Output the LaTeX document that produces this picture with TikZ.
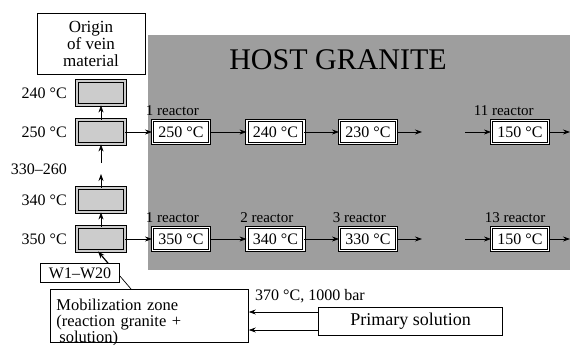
\documentclass[tikz,border=0pt]{standalone}
\usepackage{fontspec}
\setmainfont{Liberation Serif}
\usetikzlibrary{arrows.meta}

\definecolor{granite}{gray}{0.62}
\definecolor{vein}{gray}{0.80}

\begin{document}
\begin{tikzpicture}[
x=1pt, y=-1pt,
every node/.style={font=\fontsize{16}{15}\selectfont, inner sep=1pt},
box/.style={draw, line width=0.8pt, align=center},
hot/.style={draw, line width=0.9pt, double=vein, double distance=1.3pt, fill=vein, minimum width=48pt, minimum height=24pt},
reactor/.style={draw, line width=0.9pt, double=white, double distance=1.3pt, fill=white, minimum width=57pt, minimum height=23pt},
tag/.style={font=\fontsize{15}{15}\selectfont, anchor=south west, inner sep=1pt},
arrow/.style={-{Stealth[length=7pt,width=5pt]}, line width=0.7pt}
]
\useasboundingbox (0,0) rectangle (570,345);

% host granite
\fill[granite] (148,35) rectangle (570,270);
\node (host) at (338,60) {\fontsize{30}{30}\selectfont HOST GRANITE};

% vein column
\node[box, minimum width=108pt, minimum height=61pt, font=\fontsize{17}{17}\selectfont] (origin) at (91,43.5) {Origin\\of vein\\material};

\node[hot] (t240) at (101,93) {};
\node[hot] (t250) at (101,132) {};
\node[hot] (t340) at (101,200) {};
\node[hot] (t350) at (101,239) {};

\node[anchor=east] (l240) at (68,93) {240 °C};
\node[anchor=east] (l250) at (68,132) {250 °C};
\node[anchor=east] (l330) at (68,169) {330–260};
\node[anchor=east] (l340) at (68,200) {340 °C};
\node[anchor=east] (l350) at (68,239) {350 °C};

\coordinate (upA) at (101,174);
\coordinate (upB) at (101,163);

% upper reactor chain
\node[reactor, label={[tag, label distance=8pt]north west:1 reactor}] (r250) at (181,132) {250 °C};
\node[reactor] (r240) at (275.5,132) {240 °C};
\node[reactor] (r230) at (368,132) {230 °C};
\node[reactor, label={[tag, label distance=8pt, xshift=-11pt]north west:11 reactor}] (r150a) at (520,132) {150 °C};

\coordinate (gapA) at (422,132);
\coordinate (gapB) at (465,132);
\coordinate (outA) at (570,132);

% lower reactor chain
\node[reactor, label={[tag, label distance=8pt]north west:1 reactor}] (r350) at (181,239) {350 °C};
\node[reactor, label={[tag, label distance=8pt]north west:2 reactor}] (r340) at (275.5,239) {340 °C};
\node[reactor, label={[tag, label distance=8pt]north west:3 reactor}] (r330) at (368,239) {330 °C};
\node[reactor, label={[tag, label distance=8pt]north west:13 reactor}] (r150b) at (520,239) {150 °C};

\coordinate (gapC) at (422,239);
\coordinate (gapD) at (465,239);
\coordinate (outB) at (570,239);

% source
\node[box, minimum width=79pt, minimum height=19pt] (w) at (80,273) {W1–W20};
\node[box, anchor=north west, align=left, text width=186pt, inner xsep=6pt, inner ysep=10pt, text depth=22pt, font=\fontsize{16.5}{16}\selectfont] (mobil) at (50,289) {Mobilization zone\\(reaction granite +\\\hspace*{3pt}solution)};
\node[anchor=base west] (cond) at (254,300) {370 °C, 1000 bar};
\node[box, minimum width=184pt, minimum height=28pt, font=\fontsize{18}{18}\selectfont] (primary) at (410.5,321.5) {Primary solution};

\draw[arrow] (t250) -- (t240);
\draw[arrow] (t340) -- (upA);
\draw[arrow] (upB) -- (t250);
\draw[arrow] (t350) -- (t340);

\draw[arrow] (t250) -- (r250);
\draw[arrow] (r250) -- (r240);
\draw[arrow] (r240) -- (r230);
\draw[arrow] (r230) -- (gapA);
\draw[arrow] (gapB) -- (r150a);
\draw[arrow] (r150a) -- (outA);

\draw[arrow] (t350) -- (r350);
\draw[arrow] (r350) -- (r340);
\draw[arrow] (r340) -- (r330);
\draw[arrow] (r330) -- (gapC);
\draw[arrow] (gapD) -- (r150b);
\draw[arrow] (r150b) -- (outB);

\draw[arrow, line width=1.2pt] ([xshift=28pt]w.north) -- ([xshift=-3pt]t350.south);
\draw[line width=0.7pt] ([yshift=-3pt]w.east) -- ([xshift=81pt]mobil.north west);

\draw[arrow] ([yshift=9.5pt]primary.west) -- ([yshift=9.5pt]primary.west -| mobil.east);
\draw[arrow] ([yshift=-8.5pt]primary.west) -- ([yshift=-8.5pt]primary.west -| mobil.east);

\end{tikzpicture}
\end{document}
